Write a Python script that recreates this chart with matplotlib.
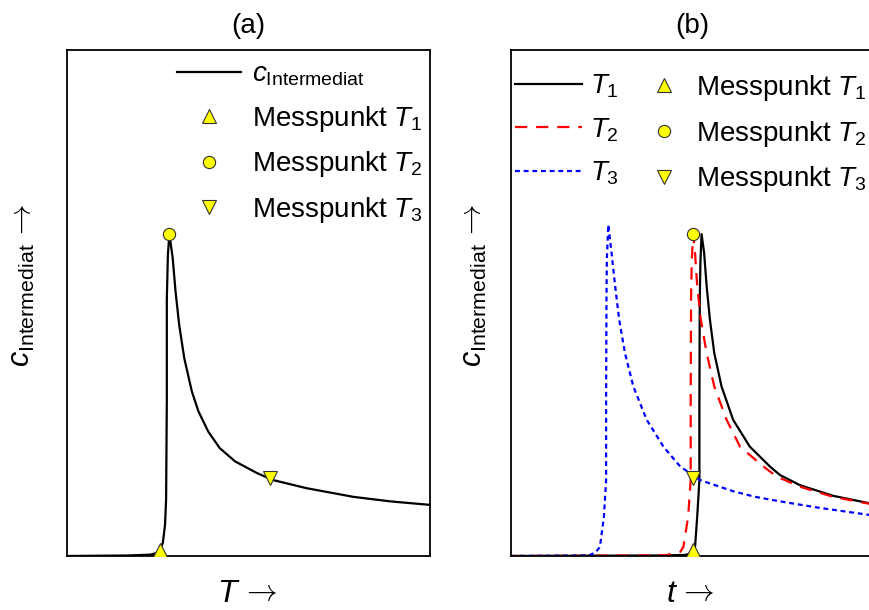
import matplotlib
matplotlib.use("Agg")
import matplotlib.pyplot as plt
from matplotlib.lines import Line2D

plt.rcParams["font.family"] = ["Liberation Sans", "DejaVu Sans"]
plt.rcParams["mathtext.fontset"] = "custom"
plt.rcParams["mathtext.rm"] = "Liberation Sans"
plt.rcParams["mathtext.it"] = "Liberation Sans:italic"
plt.rcParams["mathtext.bf"] = "Liberation Sans:bold"

# panel (a): c_Intermediat over T (arbitrary units, axes 0..100)
a_T = [0, 16.5, 22.9, 24.8, 25.6, 26.4, 27.0, 27.3, 27.5, 27.5, 27.8, 28.2,
       29.1, 29.9, 30.9, 32.3, 34.4, 36.2, 38.9, 42.1, 46.3, 52.3, 56.8, 66.0, 78.8, 89.0, 100]
a_c = [0, 0.1, 0.26, 0.6, 1.2, 2.6, 6.1, 11.1, 30.9, 50.7, 59.6, 63.6,
       59.0, 52.3, 45.7, 39.1, 32.5, 28.6, 24.6, 21.3, 18.7, 16.4, 15.0, 13.4, 11.7, 10.8, 10.1]
a_mess_T = [25.6, 28.2, 55.9]
a_mess_c = [1.2, 63.6, 15.4]

# panel (b): c_Intermediat over t for three temperatures
t1 = [0, 38.3, 47.9, 49.3, 50.2, 50.7, 51.3, 51.9, 51.9, 52.0, 52.2, 52.5,
      53.2, 53.9, 54.8, 56.0, 58.0, 61.2, 65.8, 71.3, 74.1, 79.6, 88.7, 98.9, 100]
c1 = [0, 0.1, 0.2, 0.5, 1.2, 1.8, 7.8, 15, 30, 50.7, 58.6, 63.6,
      59.9, 53.3, 46.7, 40.1, 33.5, 26.9, 21.6, 17.7, 16.0, 14.0, 11.9, 10.4, 10.3]
t2 = [0, 35.5, 42.9, 46.6, 47.5, 48.8, 49.5, 49.5, 49.6, 49.8, 50.2,
      50.7, 51.3, 52.3, 53.9, 56.0, 59.4, 63.1, 69.5, 73.2, 79.6, 88.7, 98.9, 100]
c2 = [0, 0.1, 0.2, 0.8, 1.8, 7.8, 15, 30, 50.7, 58.6, 63.6,
      59.9, 53.3, 46.7, 40.1, 33.5, 26.9, 21.6, 17.7, 15.7, 13.7, 11.7, 10.3, 10.2]
t3 = [0, 19.0, 21.8, 23.4, 24.5, 25.6, 26.2, 26.2, 26.3, 26.4, 26.8,
      27.7, 28.7, 29.8, 31.4, 33.7, 37.4, 42.0, 46.6, 52.1, 61.2, 67.2, 74.1, 84.2, 98.9, 100]
c3 = [0, 0.1, 0.2, 0.8, 1.8, 7.8, 15, 30.9, 50.7, 58.6, 65.5,
      59.9, 53.3, 46.7, 40.1, 33.5, 26.9, 21.6, 17.7, 15.0, 12.8, 11.7, 10.8, 9.6, 8.1, 8.0]
b_mess_t = [50.2, 50.2, 50.2]
b_mess_c = [1.2, 63.6, 15.4]

markers = ["^", "o", "v"]
mess_labels = [r"Messpunkt $\mathit{T}_{\mathrm{1}}$",
               r"Messpunkt $\mathit{T}_{\mathrm{2}}$",
               r"Messpunkt $\mathit{T}_{\mathrm{3}}$"]
temp_labels = [r"$\mathit{T}_{\mathrm{1}}$", r"$\mathit{T}_{\mathrm{2}}$", r"$\mathit{T}_{\mathrm{3}}$"]
c_label = r"$c_{\mathrm{Intermediat}}$"
ARROW = r"$\rightarrow$"

YELLOW = "#ffff00"
LW = 1.6


def msize(m):
    return 8.8 if m == "o" else 10.5


def style(ax, title, xsym, xsym_right, ylab_x, yarrow_x):
    ax.set_xlim(0, 100)
    ax.set_ylim(0, 100)
    ax.set_xticks([])
    ax.set_yticks([])
    for sp in ax.spines.values():
        sp.set_linewidth(1.3)
    ax.set_title(title, fontsize=20, pad=12)
    tr = ax.transAxes
    # x label: symbol + long thin arrow
    ax.text(xsym_right, -0.091, xsym, transform=tr, fontsize=23, ha="right", va="baseline")
    ax.text(xsym_right, -0.072, ARROW, transform=tr, fontsize=22, ha="left",
            va="center", math_fontfamily="cm")
    # y label, rotated
    ax.text(ylab_x, 0.3735, c_label, transform=tr, fontsize=22, rotation=90,
            rotation_mode="anchor", ha="left", va="baseline")
    ax.text(yarrow_x, 0.660, ARROW, transform=tr, fontsize=22, rotation=90,
            rotation_mode="anchor", ha="center", va="center", math_fontfamily="cm")


def mess_handle(m):
    return Line2D([], [], ls="none", marker=m, ms=msize(m), mfc=YELLOW, mec="#333333", mew=0.8)


def mess_points(ax, xs, ys):
    for x, y, m in zip(xs, ys, markers):
        ax.plot([x], [y], ls="none", marker=m, ms=msize(m), mfc=YELLOW, mec="#333333",
                mew=0.8, zorder=3)


fig = plt.figure(figsize=(8.7, 6.1), dpi=100)
ax_a = fig.add_axes([67 / 870, 54 / 610, 363 / 870, 506 / 610])
ax_b = fig.add_axes([511 / 870, 54 / 610, 363 / 870, 506 / 610])

# (a)
ax_a.plot(a_T, a_c, color="black", lw=LW)
mess_points(ax_a, a_mess_T, a_mess_c)
style(ax_a, "(a)", r"$\mathit{T}$", 0.479, -0.102, -0.125)
h_a = [Line2D([], [], color="black", lw=LW)] + [mess_handle(m) for m in markers]
ax_a.legend(h_a, [c_label] + mess_labels, loc="upper left",
            bbox_to_anchor=(0.303, 0.977), frameon=False, fontsize=20, borderpad=0,
            borderaxespad=0, handlelength=2.3, handletextpad=0.4, labelspacing=0.56)

# (b)
l1, = ax_b.plot(t1, c1, color="black", lw=LW)
l2, = ax_b.plot(t2, c2, color="red", lw=LW, ls=(0, (5.5, 4)))
l3, = ax_b.plot(t3, c3, color="blue", lw=LW, ls=(0, (2.2, 1.7)))
mess_points(ax_b, b_mess_t, b_mess_c)
style(ax_b, "(b)", r"$\mathit{t}$", 0.460, -0.080, -0.108)
leg1 = ax_b.legend([l1, l2, l3], temp_labels, loc="upper left", bbox_to_anchor=(0.011, 0.955),
                   frameon=False, fontsize=20, borderpad=0, borderaxespad=0, handlelength=2.4,
                   handletextpad=0.3, labelspacing=0.57)
ax_b.add_artist(leg1)
ax_b.legend([mess_handle(m) for m in markers], mess_labels, loc="upper left",
            bbox_to_anchor=(0.361, 0.955), frameon=False, fontsize=20, borderpad=0,
            borderaxespad=0, handlelength=1.6, handletextpad=0.35, labelspacing=0.57)

fig.savefig("out.png", dpi=100)
